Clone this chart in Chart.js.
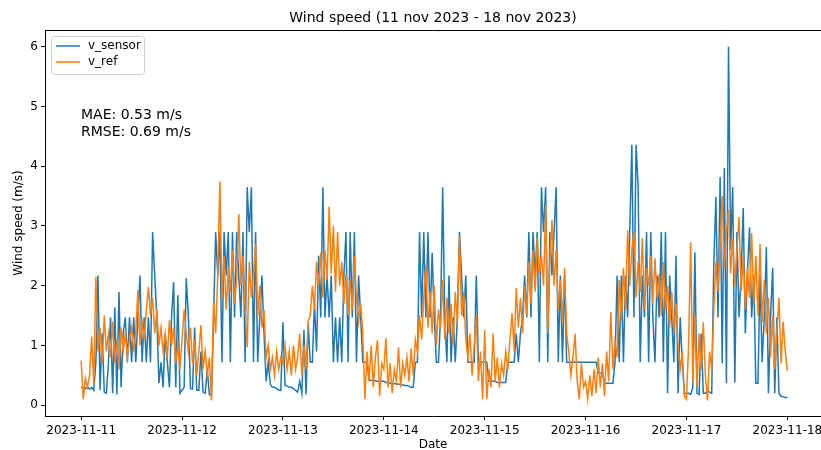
<!DOCTYPE html>
<html>
<head>
<meta charset="utf-8">
<script src="https://cdn.jsdelivr.net/npm/chart.js@4.4.0/dist/chart.umd.min.js"></script>
<style>
html, body { margin: 0; padding: 0; background: #fff; }
#graficaViento { display: block; }
</style>
</head>
<body>
<canvas id="graficaViento" width="821" height="450"></canvas>
<script>
// Datos: una muestra cada 30 min desde 2023-11-11 00:00
const stepHours = 0.5;
const tickHours = [0, 24, 48, 72, 96, 120, 144, 168];
const tickLabels = ["2023-11-11", "2023-11-12", "2023-11-13", "2023-11-14",
    "2023-11-15", "2023-11-16", "2023-11-17", "2023-11-18"];
const yTicks = [0, 1, 2, 3, 4, 5, 6];

const vSensor = [
    // 11 nov
    0.3,0.3,0.28,0.3,0.27,0.3,0.25,0.72,2.17,0.25,1.2,0.22,0.2,0.72,1.47,0.2,1.64,0.18,1.9,0.3,1.2,1.47,0.72,1.47,
    0.72,1.47,0.72,1.47,2.17,0.72,1.47,0.72,1.47,0.72,2.9,2.17,1.47,0.37,0.72,0.3,1.2,0.72,0.3,1.47,2.06,0.3,1.84,0.2,
    // 12 nov
    0.25,0.3,2.13,1.5,0.28,0.27,1.3,0.25,0.25,0.9,0.22,0.2,0.6,0.18,0.16,1.47,2.9,2.17,2.9,0.72,2.9,2.17,2.9,0.72,
    2.9,1.47,2.9,2.17,1.47,2.9,0.72,3.65,2.9,3.65,0.72,2.9,0.72,1.47,2.17,1.2,0.4,0.72,0.35,0.3,0.3,0.28,0.25,0.25,
    // 13 nov
    1.39,0.33,0.32,0.3,0.3,0.28,0.25,0.22,0.4,0.2,1.26,0.18,1.37,0.72,0.72,1.7,0.9,2.5,1.47,3.65,1.47,2.17,1.47,2.17,
    0.72,1.47,0.72,1.47,0.72,2.17,2.9,0.72,2.9,1.47,2.9,0.72,2.17,1.47,0.72,0.72,0.72,0.42,0.42,0.41,0.41,0.4,0.4,0.4,
    // 14 nov
    0.4,0.38,0.38,0.37,0.37,0.36,0.36,0.35,0.35,0.34,0.33,0.33,0.32,0.3,0.3,0.72,0.72,2.9,1.47,2.9,1.47,2.9,1.47,2.55,
    1.47,0.72,0.72,1.47,3.65,1.47,0.72,2.17,0.72,1.47,0.72,1.47,2.9,2.17,1.47,2.17,0.72,0.72,0.72,0.72,2.17,0.72,0.72,0.72,
    // 15 nov
    0.72,0.72,0.4,0.4,0.4,0.4,0.38,0.38,0.38,0.38,0.38,0.72,0.72,0.72,0.72,1.2,0.72,1.2,1.47,2.17,1.47,2.9,1.47,2.9,
    2.17,2.9,0.72,3.65,2.9,3.65,0.72,2.9,2.17,2.9,3.65,0.72,2.17,0.72,2.17,0.72,0.72,0.72,0.72,0.72,0.72,0.72,0.72,0.72,
    // 16 nov
    0.72,0.72,0.72,0.72,0.72,0.72,0.54,0.54,0.54,0.37,0.37,0.37,0.37,0.37,0.72,2.17,0.72,2.17,0.72,2.17,1.47,2.9,4.36,1.47,
    4.36,3.65,0.72,2.17,1.47,2.9,0.72,2.9,1.47,0.72,2.17,1.47,2.9,0.72,2.9,0.2,2.17,1.47,0.72,2.5,0.2,1.47,0.72,0.2,
    // 17 nov
    0.2,0.2,0.18,0.3,2.56,0.2,0.18,1.2,0.2,0.2,0.25,0.22,0.2,2.37,3.49,1.47,3.82,0.7,3.97,0.37,6.0,2.6,3.65,0.38,
    2.9,1.47,2.17,3.3,1.2,2.2,2.98,1.47,2.17,0.37,0.37,2.17,0.72,1.47,2.65,0.2,1.47,2.3,0.2,1.47,0.2,0.15,0.14,0.13,
    // 18 nov 00:00
    0.13
];

const vRef = [
    // 11 nov
    0.75,0.1,0.45,0.3,0.5,1.15,0.35,2.15,0.9,1.3,0.7,1.5,0.9,1.2,0.8,1.4,0.7,1.1,0.6,1.3,0.9,1.2,0.8,1.1,
    1.3,0.9,1.25,1.93,1.0,1.4,1.1,1.6,1.98,1.5,1.8,1.2,1.6,1.0,1.3,0.9,1.2,0.8,1.42,1.0,1.3,0.7,1.0,0.6,
    // 12 nov
    1.1,1.6,1.2,0.9,1.3,0.7,1.1,0.5,0.9,1.34,0.6,0.9,0.5,0.8,0.08,1.71,1.2,2.2,3.75,1.8,2.5,1.6,2.3,1.9,
    2.6,1.7,2.1,3.2,2.0,2.5,1.6,0.97,2.4,1.8,2.2,2.7,1.5,2.0,1.3,1.6,0.8,1.0,0.6,0.8,0.5,0.9,0.6,0.8,
    // 13 nov
    0.7,1.0,0.6,0.9,0.5,1.0,0.6,0.8,1.2,0.5,1.0,0.6,1.4,1.5,2.0,1.6,2.4,2.0,2.55,1.8,2.6,2.1,3.32,2.2,
    3.0,1.9,2.9,2.0,2.4,1.7,2.2,1.5,2.1,1.6,2.5,1.8,1.4,1.7,1.2,0.1,0.9,0.4,1.0,0.3,0.8,1.09,0.15,0.7,
    // 14 nov
    0.6,1.12,0.3,0.7,0.2,0.6,0.4,0.97,0.3,0.7,0.5,0.8,0.4,0.95,0.5,1.1,0.9,1.5,1.1,1.8,2.35,1.3,1.9,1.2,
    2.0,1.0,1.6,1.3,2.1,1.1,1.8,1.2,1.7,1.0,1.9,1.4,2.82,1.5,1.9,1.1,0.8,1.2,0.5,1.0,1.5,0.4,0.9,0.1,
    // 15 nov
    1.26,0.1,0.6,0.3,1.2,0.4,0.8,0.3,0.7,0.5,0.9,0.6,1.1,1.54,0.9,1.96,1.3,1.8,1.2,2.0,1.5,2.4,1.7,2.6,
    1.9,2.8,2.2,2.5,2.0,3.35,1.2,2.4,3.1,2.0,2.6,1.6,2.1,1.4,2.3,1.2,0.9,0.5,0.8,1.2,0.4,0.1,0.7,0.3,
    // 16 nov
    0.4,0.1,0.5,0.15,0.6,0.2,0.8,0.3,0.7,0.15,0.9,0.4,1.56,0.6,1.05,0.8,2.1,1.4,2.3,1.6,2.93,2.0,2.6,2.9,
    1.8,2.4,1.9,2.8,1.6,2.3,2.0,2.5,1.7,2.46,1.8,2.2,1.5,2.4,1.6,2.0,1.3,1.9,1.2,1.7,1.0,0.6,0.9,0.15,
    // 17 nov
    0.1,1.0,2.73,0.4,1.5,0.3,1.2,0.6,1.39,0.5,0.08,0.9,0.6,1.6,2.4,1.9,2.7,3.5,2.3,2.9,3.27,2.2,2.8,2.0,
    2.6,3.15,1.9,2.5,1.6,2.3,1.8,2.88,1.7,2.5,1.5,2.7,1.4,2.1,1.2,1.8,0.8,1.5,0.6,1.2,1.8,0.7,1.4,0.9,
    // 18 nov 00:00
    0.58
];

const textoMae = "MAE: 0.53 m/s";
const textoRmse = "RMSE: 0.69 m/s";

const azul = "#1f77b4";
const naranja = "#ff7f0e";
const fuente = "'DejaVu Sans', sans-serif";

const aPuntos = (serie) => serie.map((v, i) => ({ x: i * stepHours, y: v }));

// Marco, títulos, leyenda y textos (estilo matplotlib)
const decoracion = {
    id: "decoracion",
    afterDraw(chart) {
        const { ctx, chartArea: a } = chart;
        ctx.save();

        // borde superior (el derecho queda fuera de la imagen)
        ctx.strokeStyle = "#000";
        ctx.lineWidth = 1;
        ctx.beginPath();
        ctx.moveTo(Math.floor(a.left) + 0.5, Math.floor(a.top) + 0.5);
        ctx.lineTo(a.right + 2, Math.floor(a.top) + 0.5);
        ctx.stroke();

        ctx.fillStyle = "#000";
        ctx.textBaseline = "middle";

        ctx.font = "14px " + fuente;
        ctx.textAlign = "center";
        ctx.fillText("Wind speed (11 nov 2023 - 18 nov 2023)", (a.left + a.right) / 2, 18);

        ctx.font = "12px " + fuente;
        ctx.fillText("Date", (a.left + a.right) / 2, 445);

        ctx.save();
        ctx.translate(19, (a.top + a.bottom) / 2);
        ctx.rotate(-Math.PI / 2);
        ctx.fillText("Wind speed (m/s)", 0, 0);
        ctx.restore();

        ctx.font = "14px " + fuente;
        ctx.textAlign = "left";
        ctx.fillText(textoMae, a.left + 36, 115);
        ctx.fillText(textoRmse, a.left + 36, 132);

        // leyenda
        const lx = 51.5, ly = 36.5, lw = 93, lh = 38, r = 3;
        ctx.beginPath();
        ctx.moveTo(lx + r, ly);
        ctx.arcTo(lx + lw, ly, lx + lw, ly + lh, r);
        ctx.arcTo(lx + lw, ly + lh, lx, ly + lh, r);
        ctx.arcTo(lx, ly + lh, lx, ly, r);
        ctx.arcTo(lx, ly, lx + lw, ly, r);
        ctx.closePath();
        ctx.fillStyle = "rgba(255,255,255,0.8)";
        ctx.fill();
        ctx.strokeStyle = "#d0d0d0";
        ctx.stroke();

        const filas = [["v_sensor", azul, 46], ["v_ref", naranja, 62]];
        ctx.lineWidth = 1.5;
        ctx.font = "12px " + fuente;
        filas.forEach(([nombre, color, y]) => {
            ctx.strokeStyle = color;
            ctx.beginPath();
            ctx.moveTo(56, y);
            ctx.lineTo(80, y);
            ctx.stroke();
            ctx.fillStyle = "#000";
            ctx.fillText(nombre, 88, y);
        });

        ctx.restore();
    }
};

const ejeComun = {
    grid: { display: true, drawOnChartArea: false, drawTicks: true, tickLength: 4, color: "#000", lineWidth: 1 },
    border: { display: true, color: "#000", width: 1 }
};

const sinRelleno = (s) => {
    s.paddingLeft = 0;
    s.paddingRight = 0;
    s.paddingTop = 0;
    s.paddingBottom = 0;
};

new Chart(document.getElementById("graficaViento"), {
    type: "line",
    data: {
        datasets: [
            {
                label: "v_sensor",
                data: aPuntos(vSensor),
                borderColor: azul,
                borderWidth: 1.5,
                pointRadius: 0,
                tension: 0,
                fill: false,
                order: 2
            },
            {
                label: "v_ref",
                data: aPuntos(vRef),
                borderColor: naranja,
                borderWidth: 1.5,
                pointRadius: 0,
                tension: 0,
                fill: false,
                order: 1
            }
        ]
    },
    options: {
        responsive: false,
        devicePixelRatio: 1,
        animation: false,
        layout: { padding: { top: 30, right: 0, left: 0, bottom: 0 } },
        plugins: {
            legend: { display: false },
            tooltip: { enabled: false }
        },
        scales: {
            x: {
                type: "linear",
                min: -8.6,
                max: 176.0,
                afterBuildTicks: (s) => { s.ticks = tickHours.map(v => ({ value: v })); },
                afterFit: (s) => { s.height = 34; sinRelleno(s); },
                ticks: {
                    callback: (v, i) => tickLabels[i],
                    font: { family: fuente, size: 12 },
                    color: "#000",
                    maxRotation: 0,
                    autoSkip: false,
                    padding: 4
                },
                ...ejeComun
            },
            y: {
                min: -0.18,
                max: 6.28,
                afterBuildTicks: (s) => { s.ticks = yTicks.map(v => ({ value: v })); },
                afterFit: (s) => { s.width = 45; sinRelleno(s); },
                ticks: {
                    font: { family: fuente, size: 12 },
                    color: "#000",
                    padding: 3
                },
                ...ejeComun
            }
        }
    },
    plugins: [decoracion]
});
</script>
</body>
</html>
